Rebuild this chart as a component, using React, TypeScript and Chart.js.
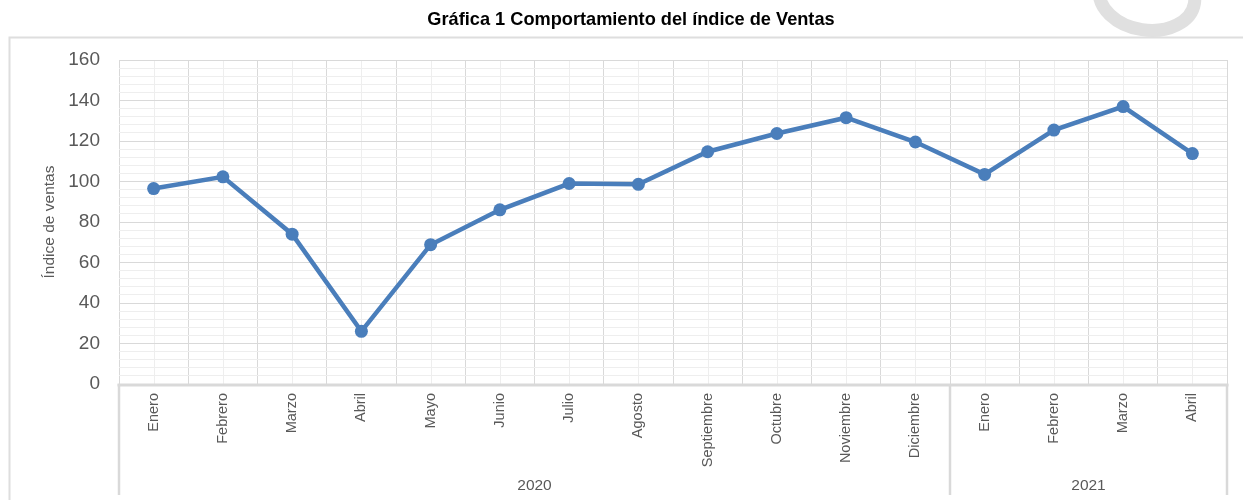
import React, { useEffect, useRef } from 'react';
import { Chart, registerables } from 'chart.js';

Chart.register(...registerables);

const months2020 = ['Enero', 'Febrero', 'Marzo', 'Abril', 'Mayo', 'Junio', 'Julio', 'Agosto', 'Septiembre', 'Octubre', 'Noviembre', 'Diciembre'];
const months2021 = ['Enero', 'Febrero', 'Marzo', 'Abril'];
const years = ['2020', '2021'];
const categories = [...months2020, ...months2021];
const ventas = [96.5, 102.3, 74, 26, 68.8, 86, 99, 98.6, 114.7, 123.7, 131.5, 119.5, 103.5, 125.4, 137, 113.8];
const yMin = 0;
const yMax = 160;
const yMajorStep = 20;
const yMinorStep = 4;
const titleText = 'Gráfica 1 Comportamiento del índice de Ventas';
const yTitle = 'Índice de ventas';

const FONT = '"Liberation Sans", Arial, sans-serif';
const TEXT = '#595959';
const MAJOR = '#d9d9d9';
const MINOR = '#eeeeee';
const LINE = '#4a7ebb';

const decor = {
  id: 'decor',
  beforeDraw(chart: any) {
    const { ctx, chartArea, scales } = chart;
    ctx.save();
    ctx.fillStyle = '#ffffff';
    ctx.fillRect(0, 0, chart.width, chart.height);
    // watermark ring
    ctx.strokeStyle = '#e0e0e0';
    ctx.lineWidth = 13;
    ctx.beginPath();
    ctx.ellipse(1147, -4, 48, 34, 0.15, 0, Math.PI * 2);
    ctx.stroke();
    // outer box
    ctx.strokeStyle = '#dedede';
    ctx.lineWidth = 2;
    ctx.beginPath();
    ctx.moveTo(9.5, chart.height + 5);
    ctx.lineTo(9.5, 37.5);
    ctx.lineTo(chart.width + 5, 37.5);
    ctx.stroke();
    // title
    ctx.fillStyle = '#000000';
    ctx.font = `bold 18.2px ${FONT}`;
    ctx.textAlign = 'center';
    ctx.textBaseline = 'middle';
    ctx.fillText(titleText, 631, 20);
    // minor vertical lines at category centres
    const x = scales.x;
    ctx.strokeStyle = MINOR;
    ctx.lineWidth = 1;
    for (let i = 0; i < categories.length; i++) {
      const px = Math.round(x.getPixelForValue(i)) + 0.5;
      ctx.beginPath();
      ctx.moveTo(px, chartArea.top);
      ctx.lineTo(px, chartArea.bottom);
      ctx.stroke();
    }
    ctx.restore();
  },
  beforeDatasetsDraw(chart: any) {
    const { ctx, chartArea, scales } = chart;
    const x = scales.x;
    ctx.save();
    ctx.strokeStyle = MAJOR;
    ctx.lineWidth = 3;
    const left = x.getPixelForValue(-0.5);
    const right = x.getPixelForValue(categories.length - 0.5);
    const yb = chartArea.bottom + 1;
    ctx.beginPath();
    ctx.moveTo(left - 1.5, yb);
    ctx.lineTo(right + 1.5, yb);
    ctx.stroke();
    const seps = [-0.5, months2020.length - 0.5, categories.length - 0.5];
    ctx.lineWidth = 2.5;
    seps.forEach((s) => {
      const px = x.getPixelForValue(s);
      ctx.beginPath();
      ctx.moveTo(px, chartArea.bottom);
      ctx.lineTo(px, chartArea.bottom + 111);
      ctx.stroke();
    });
    // year labels
    ctx.fillStyle = TEXT;
    ctx.font = `15.5px ${FONT}`;
    ctx.textAlign = 'center';
    ctx.textBaseline = 'middle';
    const groups = [
      [-0.5, months2020.length - 0.5],
      [months2020.length - 0.5, categories.length - 0.5],
    ];
    groups.forEach((g, i) => {
      const cx = (x.getPixelForValue(g[0]) + x.getPixelForValue(g[1])) / 2;
      ctx.fillText(years[i], cx, chartArea.bottom + 102);
    });
    ctx.restore();
  },
};

export default function App() {
  const ref = useRef<HTMLCanvasElement | null>(null);
  useEffect(() => {
    if (!ref.current) return;
    const chart = new Chart(ref.current, {
      type: 'line',
      data: {
        labels: categories,
        datasets: [
          {
            data: ventas,
            borderColor: LINE,
            backgroundColor: LINE,
            borderWidth: 4.5,
            pointRadius: 6.5,
            pointHoverRadius: 6.5,
            pointBackgroundColor: LINE,
            pointBorderColor: LINE,
            pointBorderWidth: 0,
            tension: 0,
          },
        ],
      },
      options: {
        responsive: false,
        animation: false,
        devicePixelRatio: 1,
        layout: { padding: { top: 60, right: 16, left: 0, bottom: 0 } },
        plugins: { legend: { display: false }, tooltip: { enabled: false }, title: { display: false } },
        scales: {
          x: {
            type: 'category',
            offset: true,
            grid: { offset: true, color: MAJOR, lineWidth: 1, drawTicks: false },
            border: { display: false },
            ticks: {
              autoSkip: false,
              maxRotation: 90,
              minRotation: 90,
              padding: 9,
              color: TEXT,
              font: { family: FONT, size: 14.5 },
            },
            afterFit(scale: any) {
              scale.height = 116;
            },
          },
          y: {
            min: yMin,
            max: yMax,
            grid: {
              color: (c: any) => (c.tick && c.tick.value % yMajorStep === 0 ? MAJOR : MINOR),
              lineWidth: 1,
              drawTicks: false,
            },
            border: { display: false },
            ticks: {
              stepSize: yMinorStep,
              autoSkip: false,
              padding: 19,
              color: TEXT,
              font: { family: FONT, size: 19 },
              callback: (v: any) => (Number(v) % yMajorStep === 0 ? String(v) : ''),
            },
            title: {
              display: true,
              text: yTitle,
              color: TEXT,
              font: { family: FONT, size: 15.5 },
              padding: { top: 40, bottom: 0 },
            },
            afterFit(scale: any) {
              scale.width = 119;
            },
          },
        },
      },
      plugins: [decor],
    });
    return () => chart.destroy();
  }, []);
  return (
    <div style={{ position: 'fixed', left: 0, top: 0, width: 1243, height: 500, background: '#fff' }}>
      <canvas ref={ref} width={1243} height={500} style={{ display: 'block', width: 1243, height: 500 }} />
    </div>
  );
}
